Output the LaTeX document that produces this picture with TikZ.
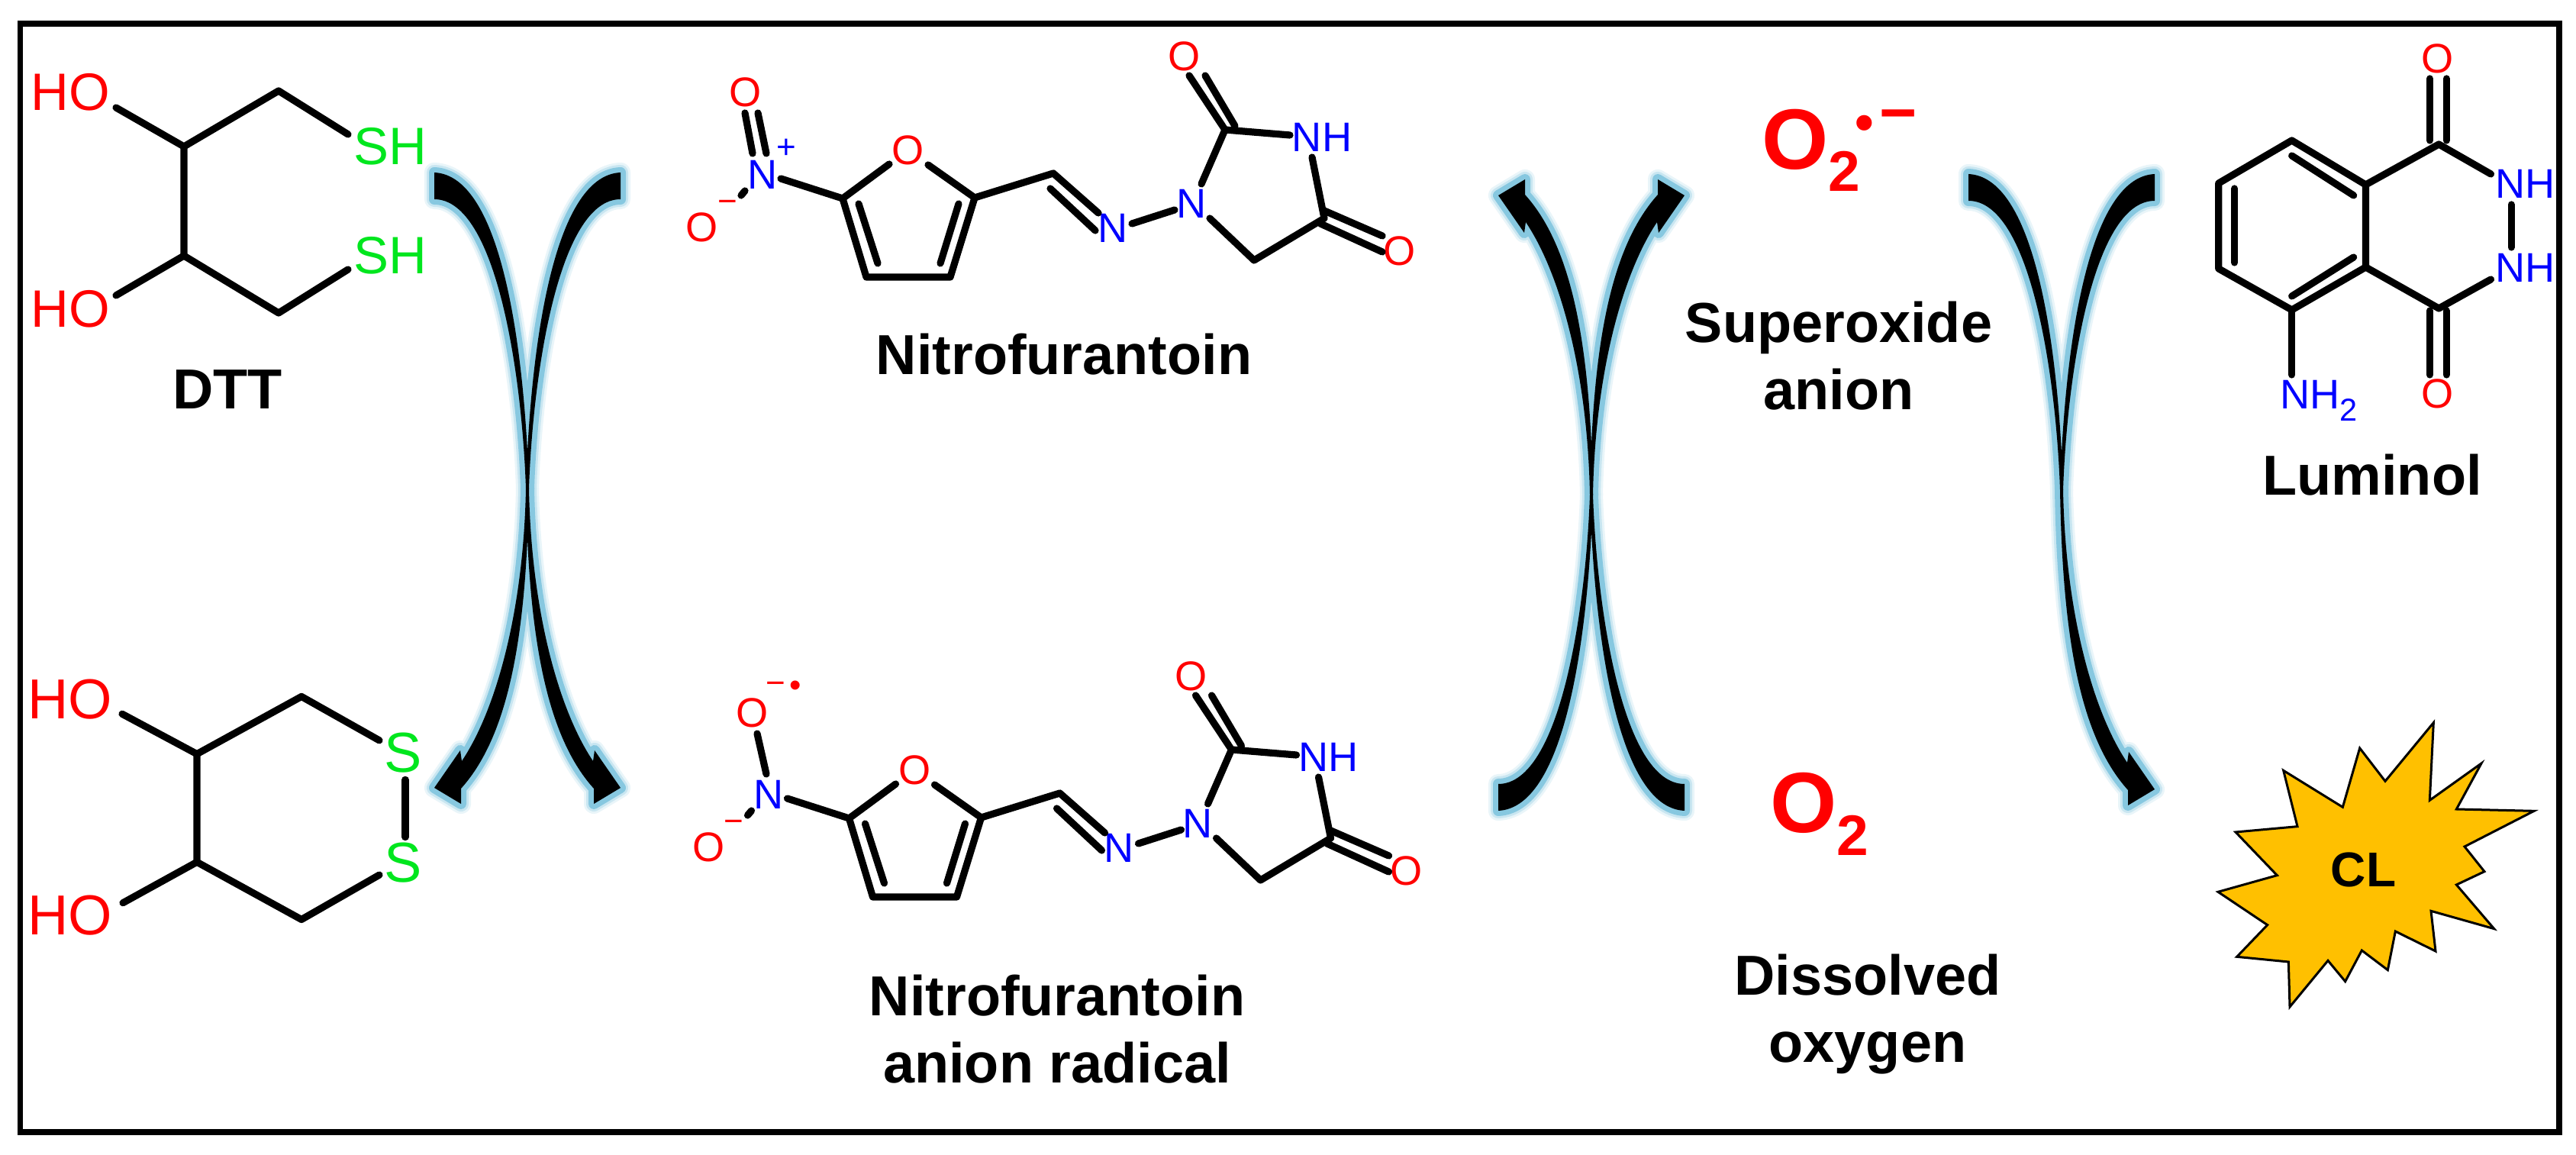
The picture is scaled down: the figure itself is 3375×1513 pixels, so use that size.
\documentclass[tikz,border=0pt]{standalone}
\usepackage{fontspec}
\setmainfont{Liberation Sans}
\definecolor{molred}{RGB}{255,0,0}
\definecolor{molgreen}{RGB}{0,230,30}
\definecolor{molblue}{RGB}{0,0,255}
\definecolor{halo}{RGB}{135,200,224}
\definecolor{starfill}{RGB}{255,192,0}
\tikzset{
  bond/.style={line width=.092cm,line cap=round,line join=round},
  atomtext/.style={inner sep=0pt,text height=.387cm,text depth=0pt,font=\fontsize{15.4}{18}\selectfont},
  bigatom/.style={inner sep=0pt,text height=.494cm,text depth=0pt,font=\fontsize{19.6}{23}\selectfont},
  lowatom/.style={inner sep=0pt,text height=.52cm,text depth=0pt,font=\fontsize{21}{24}\selectfont},
  chargetext/.style={inner sep=0pt,font=\fontsize{12.5}{14}\selectfont},
  labeltext/.style={inner sep=0pt,align=center,font=\fontsize{21}{25}\selectfont\bfseries},
  oxytext/.style={inner sep=0pt,anchor=base west,text=molred,font=\fontsize{31.9}{36}\selectfont\bfseries},
  glowA/.style={draw=halo!18,line width=.26cm,line join=round},
  glowB/.style={draw=halo!45,line width=.20cm,line join=round},
  glowC/.style={draw=halo,line width=.14cm,line join=round},
  inkfill/.style={fill=black},
}
\newcommand{\tailP}{(569,226) .. controls (660,230) and (688,470) .. (693,640) -- (689,640) .. controls (684,490) and (650,261) .. (569,261) -- cycle}
\newcommand{\headP}{(693,640) .. controls (690,820) and (670,960) .. (604,1033) -- (604,1053) -- (569,1032) -- (603,983) -- (605,997) .. controls (650,930) and (686,800) .. (689,640) -- cycle}
% #1 style, #2 = 1 draw the left head
\newcommand{\arrowlayer}[2]{%
  \path[#1] \tailP;
  \ifnum#2=1 \path[#1] \headP;\fi
  \begin{scope}[shift={(1382,0)},xscale=-1]
    \path[#1] \tailP;
    \path[#1] \headP;
  \end{scope}}
\newcommand{\arrowpair}[1]{%
  \arrowlayer{glowA}{#1}\arrowlayer{glowB}{#1}\arrowlayer{glowC}{#1}\arrowlayer{inkfill}{#1}}
% nitrofurantoin core, #1 = name prefix
\newcommand{\nitrocore}[1]{%
  \node[atomtext,text=molred] (#1ringO) at (1190,196) {O};
  \node[atomtext,text=molblue] (#1nitroN) at (999,228) {N};
  \node[atomtext,text=molred] (#1oxm) at (920,297) {O};
  \node[chargetext,text=molred] (#1oxmc) at (953,270) {−};
  \node[atomtext,text=molblue] (#1imN) at (1458,298) {N};
  \node[atomtext,text=molblue] (#1ringN) at (1561,266) {N};
  \node[atomtext,text=molblue] (#1NH) at (1732,179) {NH};
  \node[atomtext,text=molred] (#1Oa) at (1552,73) {O};
  \node[atomtext,text=molred] (#1Ob) at (1834,328) {O};
  \draw[bond] (976,250) -- (971,256);
  \draw[bond] (1023,234) -- (1104,260) -- (1165,215);
  \draw[bond] (1216,216) -- (1277,259) -- (1245,363) -- (1135,363) -- (1104,260);
  \draw[bond] (1125,267) -- (1150,345);
  \draw[bond] (1256,267) -- (1232,345);
  \draw[bond] (1277,259) -- (1380,227) -- (1439,279);
  \draw[bond] (1376,247) -- (1435,302);
  \draw[bond] (1483,293) -- (1539,275);
  \draw[bond] (1574,241) -- (1605,170) -- (1690,177);
  \draw[bond] (1605,170) -- (1558,99);
  \draw[bond] (1618,165) -- (1579,99);
  \draw[bond] (1719,206) -- (1735,286) -- (1643,341) -- (1585,286);
  \draw[bond] (1735,276) -- (1811,309);
  \draw[bond] (1730,293) -- (1811,330);
}
\begin{document}
\begin{tikzpicture}[x=.01cm,y=-.01cm]
\useasboundingbox (0,0) rectangle (3375,1513);
\fill[white] (0,0) rectangle (3375,1513);
\draw[line width=.075cm] (26.5,31) rectangle (3353,1483);

% arrows
\begin{scope}\arrowpair{1}\end{scope}
\begin{scope}[shift={(1394,1288)},yscale=-1]\arrowpair{1}\end{scope}
\begin{scope}[shift={(2010,2)}]\arrowpair{0}\end{scope}

% DTT
\node[bigatom,text=molred] (ho1) at (92,120) {HO};
\node[bigatom,text=molred] (ho2) at (92,404) {HO};
\node[bigatom,text=molgreen] (sh1) at (511,191) {SH};
\node[bigatom,text=molgreen] (sh2) at (511,334) {SH};
\draw[bond] (152,141) -- (241,192) -- (365,119) -- (456,176);
\draw[bond] (241,192) -- (241,335) -- (365,410) -- (456,353);
\draw[bond] (241,335) -- (152,387);
\node[labeltext,anchor=base] (dtt) at (298,536) {DTT};

% oxidised DTT
\begin{scope}[shift={(0,7.6)},yscale=.99]
\node[lowatom,text=molred] (ho3) at (92,917) {HO};
\node[lowatom,text=molred] (ho4) at (92,1203) {HO};
\node[lowatom,text=molgreen] (s1) at (528,988) {S};
\node[lowatom,text=molgreen] (s2) at (528,1133) {S};
\draw[bond] (160,937) -- (258,990) -- (395,914) -- (497,972);
\draw[bond] (258,990) -- (258,1133) -- (395,1209) -- (497,1150);
\draw[bond] (258,1133) -- (161,1187);
\draw[bond] (531,1024) -- (531,1100);
\end{scope}

% nitrofurantoin
\nitrocore{a}
\node[atomtext,text=molred] (aoxd) at (977,120) {O};
\node[chargetext,text=molblue] (aplus) at (1030,195) {+};
\draw[bond] (976,148) -- (986,201);
\draw[bond] (993,148) -- (1004,201);
\node[labeltext,anchor=base] (lab1) at (1394,491) {Nitrofurantoin};

% anion radical
\begin{scope}[shift={(8.5,812)}]
  \nitrocore{b}
\end{scope}
\node[atomtext,text=molred] (boxu) at (986,933) {O};
\node[chargetext,text=molred] (bminus) at (1016,901) {−};
\node[chargetext,text=molred] (bdot) at (1042,902) {•};
\draw[bond] (992,961) -- (1004,1014);
\node[labeltext] (lab2) at (1385,1348) {Nitrofurantoin\\anion radical};

% superoxide
\node[oxytext] (sup) at (2308,222) {O\raisebox{-.28cm}{\fontsize{21.3}{25}\selectfont 2}};
\node[inner sep=0pt,text=molred,font=\fontsize{20}{24}\selectfont\bfseries] (supdot) at (2443,168) {•};
\node[inner sep=0pt,text=molred,font=\fontsize{24}{28}\selectfont\bfseries] (supminus) at (2487,160) {−};
\node[labeltext] (lab3) at (2409,466) {Superoxide\\anion};

% oxygen
\node[oxytext] (oxy) at (2319,1091) {O\raisebox{-.29cm}{\fontsize{21.3}{25}\selectfont 2}};
\node[labeltext] (lab4) at (2447,1329) {Dissolved\\oxygen};

% luminol
\begin{scope}[shift={(22.8,0)},xscale=.988]
\node[atomtext,text=molred] (lo1) at (3209,76) {O};
\node[atomtext,text=molred] (lo2) at (3209,515) {O};
\node[atomtext,text=molblue] (ln1) at (3326,240) {NH};
\node[atomtext,text=molblue] (ln2) at (3326,350) {NH};
\node[atomtext,text=molblue,anchor=base west,text height=0pt] (ln3) at (3000,536) {NH\raisebox{-.15cm}{\fontsize{11.8}{14}\selectfont 2}};
\draw[bond] (3199,103) -- (3199,184);
\draw[bond] (3221,103) -- (3221,184);
\draw[bond] (3280,228) -- (3211,189) -- (3114,242) -- (3016,184) -- (2919,240) -- (2919,352) -- (3016,406) -- (3114,350) -- (3114,242);
\draw[bond] (3114,350) -- (3211,404) -- (3280,366);
\draw[bond] (3307,268) -- (3307,324);
\draw[bond] (3199,407) -- (3199,491);
\draw[bond] (3221,407) -- (3221,491);
\draw[bond] (3016,204) -- (3098,256);
\draw[bond] (2940,247) -- (2940,344);
\draw[bond] (3016,388) -- (3098,337);
\draw[bond] (3016,406) -- (3016,491);
\end{scope}
\node[labeltext,anchor=base] (lab5) at (3108,649) {Luminol};

% burst
\begin{scope}[shift={(2880,920)},xscale=.33333,yscale=.33333]
\draw[fill=starfill,line width=.03cm,line join=miter]
 (925,80) -- (910,385) -- (1113,240) -- (1015,420) -- (1320,427) -- (1047,567) -- (1125,665) -- (1015,717) -- (1163,890) -- (915,820) -- (933,978) -- (775,900) -- (745,1052) -- (643,975) -- (578,1097) -- (510,1015) -- (360,1197) -- (355,1020) -- (152,1000) -- (272,875) -- (78,745) -- (310,680) -- (147,510) -- (390,488) -- (335,268) -- (568,412) -- (635,180) -- (735,310) -- cycle;
\end{scope}
\node[inner sep=0pt,anchor=base,font=\fontsize{18.2}{22}\selectfont\bfseries] (cl) at (3096.5,1162) {CL};
\end{tikzpicture}
\end{document}
